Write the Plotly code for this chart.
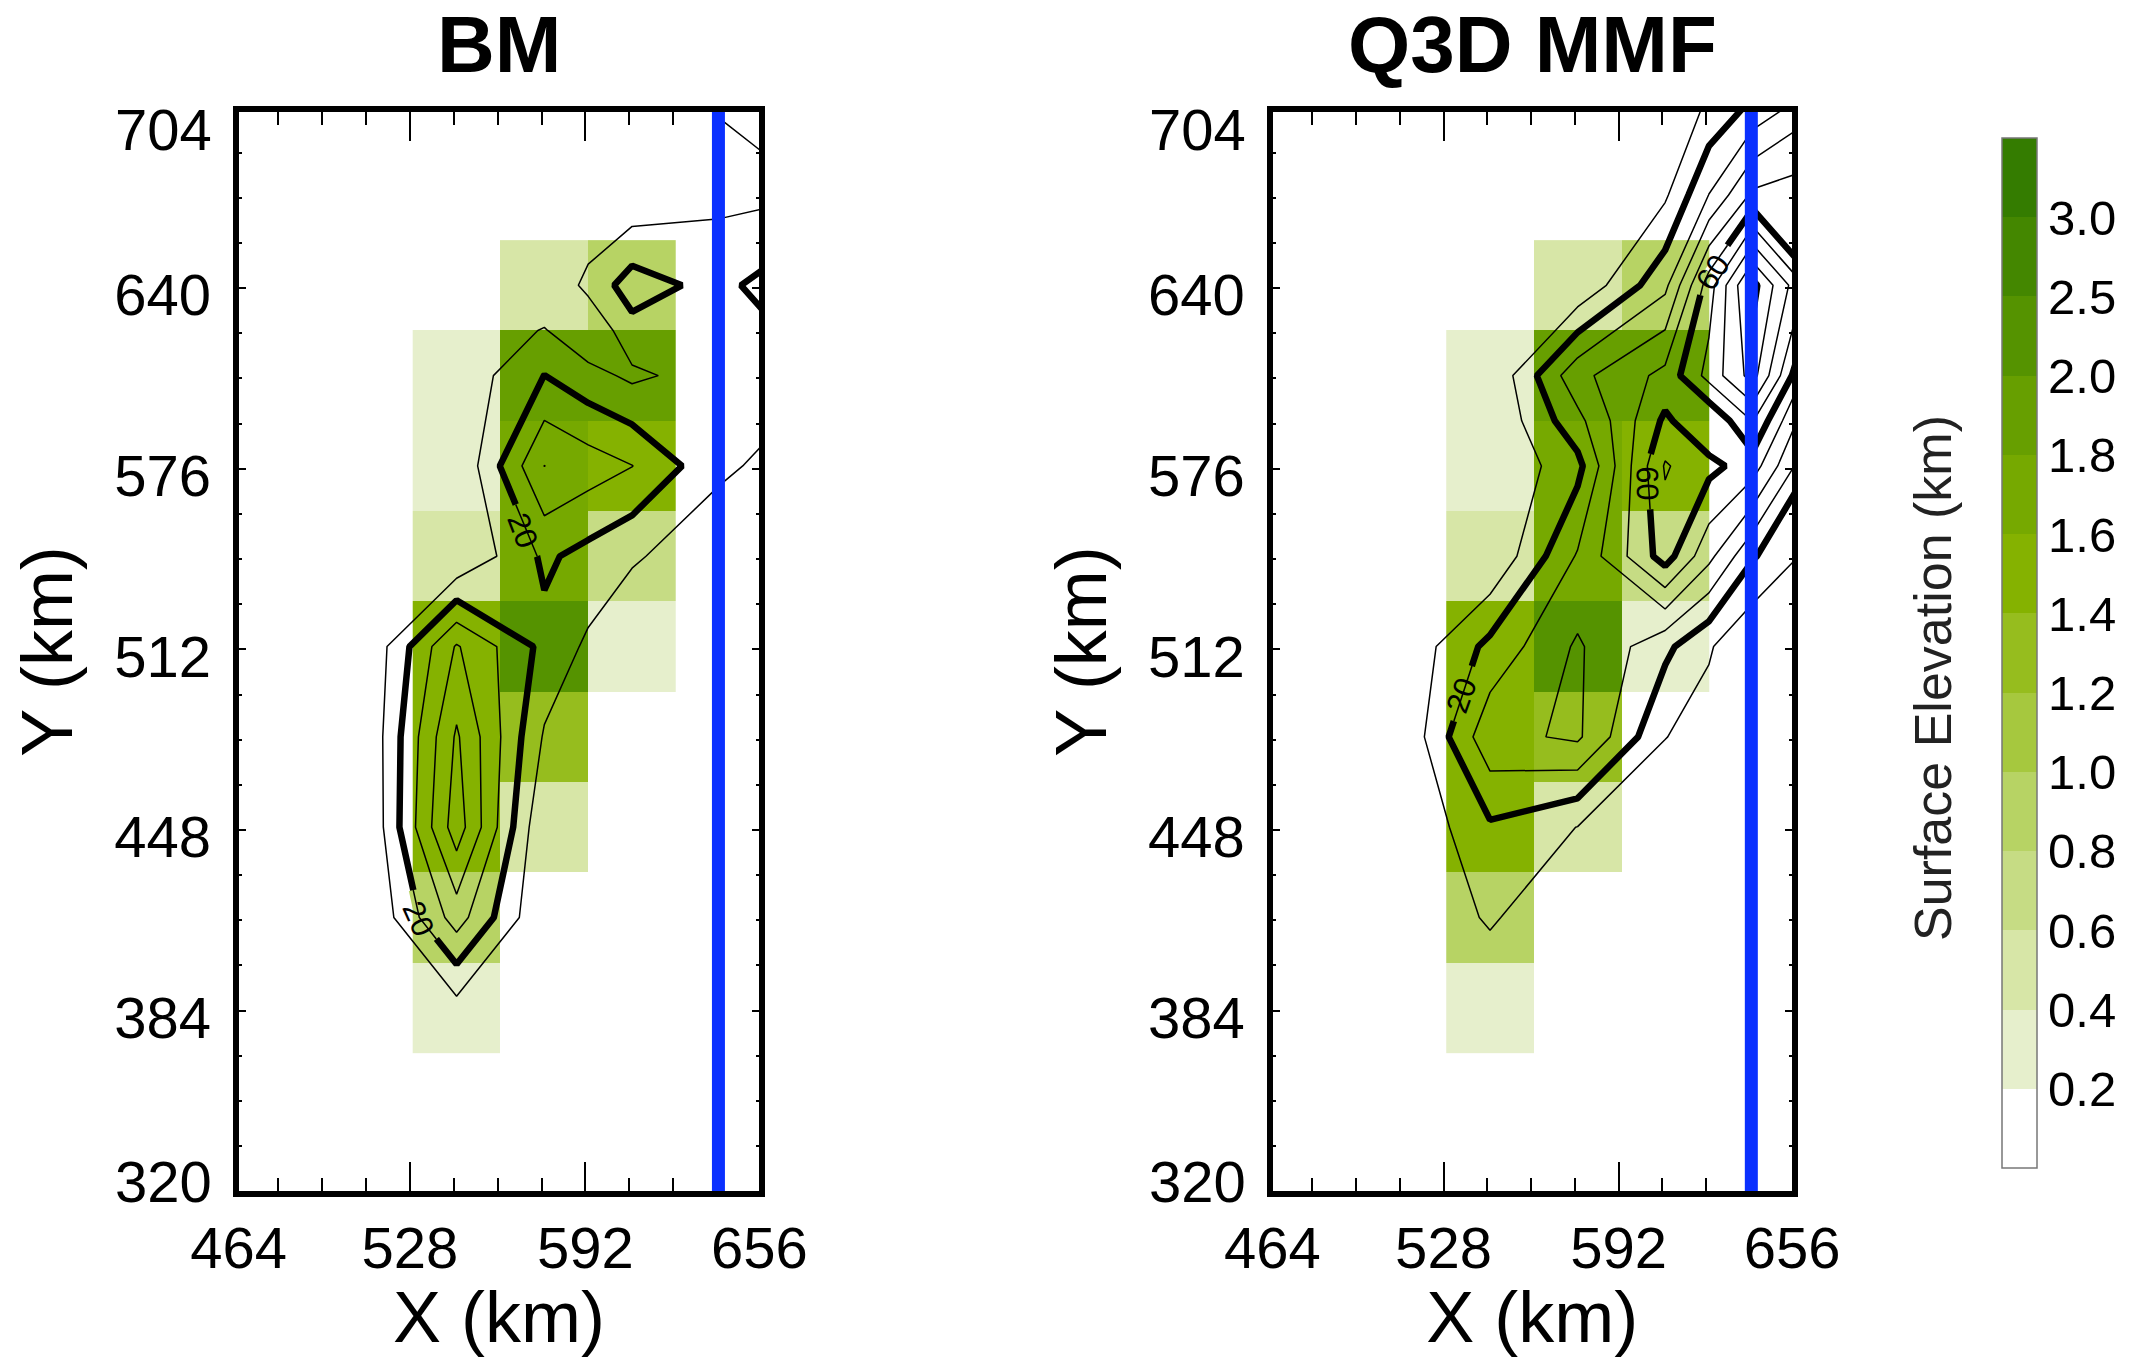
import numpy as np
import plotly.graph_objects as go

W, H = 2148, 1357

# grid of the contoured field (km); each panel has one extra row and column
bm_x = [449, 481, 513, 545, 577, 593, 609, 641, 673]
bm_y = [705, 673, 641, 625, 609, 577, 545, 513, 481, 449, 417, 385, 353, 321]
field_bm = [
    [0, 0, 0, 0, 0, 0, 0, 10.4, 20],
    [0, 0, 0, 0, 0, 1, 2, 7.8, 9.1],
    [0, 0, 0, 0, 0.5, 12.75, 25, 16.2, 32],
    [0, 0, 0, 1.3, 10.7, 1.5, 16.5, 15.4, 22],
    [0, 0, 0, 2.7, 20.1, 13.5, 8, 14.7, 12],
    [0, 0, 0, 0.5, 40.1, 35, 30.2, 12.3, 3.5],
    [0, 0, 0, 0, 21.8, 16.7, 11.6, 1.5, 0],
    [0, 0, 1.9, 41, 17, 8.2, -0.5, 0, 0],
    [0, 0, 2.2, 51.4, 8.9, 4.4, 0, 0, 0],
    [0, 0, 1, 55.5, 0.5, 0.2, 0, 0, 0],
    [0, 0, 0.2, 34.6, 0.2, 0, 0, 0, 0],
    [0, 0, 0, 6.4, 0, 0, 0, 0, 0],
    [0, 0, 0, 0, 0, 0, 0, 0, 0],
    [0, 0, 0, 0, 0, 0, 0, 0, 0],
]
q3d_x = [449, 481, 513, 545, 577, 609, 625, 641, 673]
q3d_y = [705, 673, 641, 609, 593, 577, 545, 513, 481, 449, 417, 385, 353, 321]
field_q3d = [
    [0, 0, 0, 0, 0, 1.2, 11.4, 21.6, 41.3],
    [0, 0, 0, 0, 0, 8.4, 30.2, 52, 55.8],
    [0, 0, 0, 0, 1.5, 27.4, 65.2, 103, 47],
    [0, 0, 0, 0.5, 37, 53, 73.5, 94, 18],
    [0, 0, 0, 0.42, 26.9, 62, 50.5, 70.5, 10.25],
    [0, 0, 0, 0.34, 16.8, 71, 63, 55, 2.5],
    [0, 0, 0, 0.7, 31, 64.6, 42.8, 21, 0],
    [0, 0, 2, 22.8, 41.5, 22.5, 11.2, 0, 0],
    [0, 0, 1, 37, 41.7, 10.3, 5.2, 0, 0],
    [0, 0, 0.15, 18.5, 9.8, 0, 0, 0, 0],
    [0, 0, 0, 11.4, 0, 0, 0, 0, 0],
    [0, 0, 0, 1.4, 0, 0, 0, 0, 0],
    [0, 0, 0, 0, 0, 0, 0, 0, 0],
    [0, 0, 0, 0, 0, 0, 0, 0, 0],
]

# terrain
terrain_x = [545, 577, 609]
terrain_y = [641, 609, 577, 545, 513, 481, 449, 417, 385]
terrain_km = [
    [None, 0.5, 0.9],
    [0.3, 1.9, 1.9],
    [0.3, 1.7, 1.5],
    [0.5, 1.7, 0.7],
    [1.5, 2.2, 0.3],
    [1.5, 1.3, None],
    [1.5, 0.5, None],
    [0.9, None, None],
    [0.3, None, None],
]

elev_bounds = [0.2, 0.4, 0.6, 0.8, 1.0, 1.2, 1.4, 1.6, 1.8, 2.0, 2.5, 3.0]
elev_labels = ["0.2", "0.4", "0.6", "0.8", "1.0", "1.2", "1.4", "1.6", "1.8", "2.0", "2.5", "3.0"]
elev_colors = ["#ffffff", "#e6efcc", "#d7e6a7", "#c6dc84", "#b7d364", "#a6c83e", "#96bd1e",
               "#85b200", "#76a900", "#679f00", "#559300", "#448700", "#347c00"]

# contour labels: text, centre x, centre y, angle
bm_labels = [("20", 569, 554, 69), ("20", 531, 416.6, 66)]
q3d_labels = [("20", 534.7, 495.5, -70), ("60", 602.3, 571, 89), ("60", 626.5, 645.4, -56)]
# stretches of the bold contours that break around those labels: x, y, ground colour
bm_breaks = [([566.6, 574.4], [563.3, 545], "#76a900"),
             ([529.2, 531.4, 537.6], [426.7, 417, 409.4], "#b7d364")]
q3d_breaks = [([538.4, 531.8], [506.1, 486.6], "#85b200"),
              ([603.7, 602.5, 603.5], [581.2, 577, 561.6], "#85b200"),
              ([621.9, 622.8, 625], [637.5, 641, 645.8], "#b7d364"),
              ([625, 631.8], [645.8, 655.2], "#ffffff")]

x_tick_labels = ["464", "528", "592", "656"]
x_tick_pos = [465.5, 528, 592, 655.4]
x_minor = [480, 496, 512, 544, 560, 576, 608, 624]
y_tick_labels = ["384", "448", "512", "576", "640"]
y_tick_pos = [384, 448, 512, 576, 640]
y_minor = [336, 352, 368, 400, 416, 432, 464, 480, 496, 528, 544, 560, 592, 608, 624, 656, 672, 688]
terrain_edge_x = 640.5
FONT = "Liberation Sans"

n = len(elev_colors)
scale = []
for i, c in enumerate(elev_colors):
    scale += [[i / n, c], [(i + 1) / n, c]]


def bands(rows):
    return [[None if v is None else int(np.searchsorted(elev_bounds, v)) for v in r] for r in rows]


fig = go.Figure()
ann = []
panels = [("x", "y", bm_x, bm_y, field_bm, bm_breaks, bm_labels),
          ("x2", "y2", q3d_x, q3d_y, field_q3d, q3d_breaks, q3d_labels)]
for xa, ya, gx, gy, field, breaks, labels in panels:
    fig.add_trace(go.Heatmap(x=terrain_x, y=terrain_y, z=bands(terrain_km), coloraxis="coloraxis",
                             xaxis=xa, yaxis=ya, hoverongaps=False))
    fig.add_trace(go.Contour(x=gx, y=gy, z=field, xaxis=xa, yaxis=ya, showscale=False,
                             contours=dict(coloring="none", start=10, end=110, size=10),
                             line=dict(color="black", width=1.5, smoothing=0)))
    fig.add_trace(go.Contour(x=gx, y=gy, z=field, xaxis=xa, yaxis=ya, showscale=False,
                             contours=dict(coloring="none", start=20, end=100, size=40),
                             line=dict(color="black", width=6.5, smoothing=0)))
    for bx, by, colour in breaks:
        fig.add_trace(go.Scatter(x=bx, y=by, mode="lines", xaxis=xa, yaxis=ya, showlegend=False,
                                 line=dict(color=colour, width=9)))
    for bx, by, colour in breaks:
        fig.add_trace(go.Scatter(x=bx, y=by, mode="lines", xaxis=xa, yaxis=ya, showlegend=False,
                                 line=dict(color="black", width=1.5)))
    fig.add_trace(go.Scatter(x=[terrain_edge_x, terrain_edge_x], y=[319, 703], mode="lines", xaxis=xa, yaxis=ya,
                             line=dict(color="#0a30ff", width=13), showlegend=False))
    for text, lx, ly, angle in labels:
        ann.append(dict(text=text, x=lx, y=ly, xref=xa, yref=ya, textangle=angle, showarrow=False,
                        xanchor="center", yanchor="middle", font=dict(family=FONT, size=31, color="black")))


def axis_common():
    return dict(showgrid=False, zeroline=False, showline=True, linecolor="black", linewidth=6, mirror="ticks",
                ticks="inside", tickwidth=1.5, tickcolor="black",
                tickfont=dict(family=FONT, size=58, color="black"))


for i, xd in enumerate([(238.6, 759.3), (1272.5, 1792.1)]):
    sfx = "" if i == 0 else "2"
    fig.layout["xaxis" + sfx] = go.layout.XAxis(
        domain=[xd[0] / W, xd[1] / W], range=[465.5, 655.4], tickmode="array", tickvals=x_tick_pos,
        ticktext=x_tick_labels, ticklen=29, ticklabelstandoff=1,
        minor=dict(tickmode="array", tickvals=x_minor, ticks="inside", ticklen=13, tickwidth=1.5, tickcolor="black"),
        title=dict(text="X (km)", font=dict(family=FONT, size=72, color="black"), standoff=12),
        anchor="y" + sfx, **axis_common())
    fig.layout["yaxis" + sfx] = go.layout.YAxis(
        domain=[1 - 1191 / H, 1 - 112 / H], range=[320.1, 702.4], tickmode="array", tickvals=y_tick_pos,
        ticktext=y_tick_labels, ticklen=7, ticklabelshift=7, ticklabelstandoff=10,
        minor=dict(tickmode="array", tickvals=y_minor, ticks="inside", ticklen=3, tickwidth=1.5, tickcolor="black"),
        title=dict(text="Y (km)", font=dict(family=FONT, size=72, color="black"), standoff=20),
        anchor="x" + sfx, **axis_common())

for text, cx in [("BM", 499), ("Q3D MMF", 1532)]:
    ann.append(dict(text=f"<b>{text}</b>", x=cx / W, y=1 - 44 / H, xref="paper", yref="paper", showarrow=False,
                    xanchor="center", yanchor="middle", font=dict(family=FONT, size=80, color="black")))
for right in [214, 1248]:
    for text, py in [("704", 130), ("320", 1181)]:
        ann.append(dict(text=text, x=right / W, y=1 - py / H, xref="paper", yref="paper", xanchor="right",
                        yanchor="middle", showarrow=False, font=dict(family=FONT, size=58, color="black")))
ann.append(dict(text="Surface Elevation (km)", x=1933 / W, y=1 - 678 / H, xref="paper", yref="paper", textangle=-90,
                xanchor="center", yanchor="middle", showarrow=False,
                font=dict(family=FONT, size=52, color="#222222")))

fig.update_layout(
    width=W, height=H, autosize=False, margin=dict(l=0, r=0, t=0, b=0, autoexpand=False),
    paper_bgcolor="white", plot_bgcolor="white", showlegend=False, annotations=ann,
    coloraxis=dict(cmin=0, cmax=n, colorscale=scale,
                   colorbar=dict(x=2002 / W, xanchor="left", xpad=0, thickness=35, thicknessmode="pixels",
                                 lenmode="pixels", len=1030, y=1 - 653.2 / H, yanchor="middle", ypad=0,
                                 outlinecolor="#777777", outlinewidth=1.5, ticks="",
                                 tickmode="array", tickvals=list(range(1, n)), ticktext=elev_labels,
                                 ticklabelposition="outside",
                                 tickfont=dict(family=FONT, size=49, color="black"))),
)

fig.write_html("out.html", post_script="document.body.style.margin='0';", config={"displayModeBar": False})
